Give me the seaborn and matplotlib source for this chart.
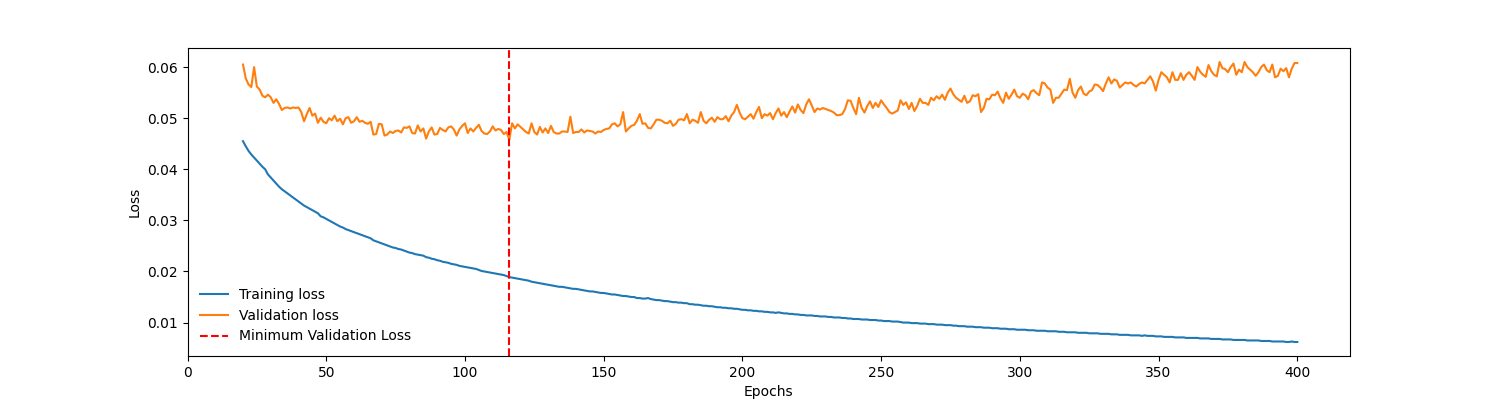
import matplotlib
matplotlib.use("Agg")
import matplotlib.pyplot as plt
import numpy as np
import pandas as pd
import seaborn as sns

train_loss = [
    .0455, .0445, .0436, .0429, .0423, .0417, .0411, .0405, .0400,
    .0390, .0384, .0378, .0372, .0366, .0361, .0357, .0353, .0349, .0345,
    .0341, .0337, .0333, .0329, .0326, .0323, .0320, .0317, .0314,
    .0308, .0306, .0303, .0300, .0297, .0294, .0291, .0288, .0286, .0283,
    .0281, .0279, .0277, .0275, .0273, .0271, .0269, .0267, .0265,
    .0261, .0259, .0257, .0255, .0253, .0251, .0249, .0247, .0246, .0244,
    .0243, .0241, .0239, .0237, .0236, .0234, .0233, .0232, .0231,
    .0228, .0227, .0225, .0224, .0222, .0221, .0219, .0218, .0217, .0215,
    .0214, .0213, .0211, .0210, .0209, .0208, .0207, .0206, .0205,
    .0203, .0201, .0200, .0199, .0198, .0197, .0196, .0195, .0194, .0193,
    .0191, .0189, .0188, .0187, .0186, .0185, .0184, .0183, .0182,
    .0180, .0179, .0178, .0177, .0176, .0175, .0174, .0173, .0172, .0171,
    .0170, .0170, .0169, .0168, .0167, .0166, .0166, .0165, .0164,
    .0163, .0162, .0161, .0161, .0160, .0159, .0158, .0158, .0157, .0156,
    .0155, .0155, .0154, .0153, .0152, .0152, .0151, .0150, .0150,
    .0148, .0148, .0147, .0147, .0148, .0146, .0145, .0144, .0144, .0143,
    .0142, .0142, .0141, .0140, .0140, .0139, .0139, .0138, .0138,
    .0136, .0136, .0135, .0135, .0134, .0133, .0133, .0132, .0132, .0131,
    .0130, .0130, .0129, .0129, .0128, .0128, .0127, .0127, .0126,
    .0125, .0125, .0124, .0124, .0123, .0123, .0122, .0122, .0121, .0121,
    .0120, .0120, .0119, .0120, .0119, .0118, .0118, .0117, .0117,
    .0116, .0116, .0115, .0115, .0114, .0114, .0114, .0113, .0113, .0112,
    .0112, .0112, .0111, .0111, .0110, .0110, .0110, .0109, .0109,
    .0108, .0108, .0107, .0107, .0107, .0106, .0106, .0106, .0105, .0105,
    .0105, .0104, .0104, .0103, .0103, .0103, .0102, .0102, .0102,
    .0101, .0100, .0100, .0100, .0099, .0099, .0099, .0098, .0098, .0098,
    .0097, .0097, .0097, .0096, .0096, .0096, .0095, .0095, .0095,
    .0094, .0094, .0093, .0093, .0093, .0092, .0092, .0092, .0091, .0091,
    .0091, .0090, .0090, .0090, .0089, .0089, .0089, .0088, .0088,
    .0088, .0087, .0087, .0087, .0086, .0086, .0086, .0086, .0085, .0085,
    .0085, .0084, .0084, .0084, .0084, .0083, .0083, .0083, .0083,
    .0082, .0082, .0082, .0081, .0081, .0081, .0081, .0080, .0080, .0080,
    .0080, .0079, .0079, .0079, .0079, .0078, .0078, .0078, .0078,
    .0077, .0077, .0077, .0076, .0076, .0076, .0076, .0075, .0075, .0075,
    .0075, .0074, .0075, .0074, .0074, .0074, .0073, .0073, .0073,
    .0072, .0072, .0072, .0072, .0071, .0071, .0071, .0071, .0070, .0070,
    .0070, .0070, .0070, .0069, .0069, .0069, .0069, .0068, .0068,
    .0068, .0068, .0067, .0067, .0067, .0067, .0066, .0066, .0066, .0066,
    .0066, .0065, .0065, .0065, .0065, .0065, .0064, .0064, .0064,
    .0064, .0063, .0063, .0063, .0063, .0063, .0062, .0062, .0063, .0062,
    .0062,
]

val_loss = [
    .0605, .0578, .0566, .0561, .0600, .0562, .0556, .0544, .0541,
    .0546, .0541, .0530, .0537, .0528, .0516, .0520, .0521, .0519, .0521,
    .0520, .0521, .0512, .0494, .0508, .0520, .0505, .0509, .0491,
    .0501, .0493, .0490, .0500, .0496, .0505, .0494, .0499, .0488, .0500,
    .0502, .0491, .0494, .0502, .0493, .0495, .0491, .0489, .0493,
    .0468, .0469, .0489, .0488, .0466, .0468, .0474, .0471, .0475, .0476,
    .0472, .0482, .0481, .0484, .0471, .0470, .0486, .0474, .0480,
    .0460, .0474, .0482, .0468, .0469, .0481, .0477, .0474, .0482, .0484,
    .0478, .0466, .0478, .0485, .0490, .0471, .0480, .0474, .0481,
    .0487, .0475, .0470, .0469, .0474, .0484, .0476, .0479, .0477, .0469,
    .0473, .0458, .0490, .0480, .0488, .0483, .0478, .0473, .0470,
    .0490, .0473, .0468, .0483, .0472, .0480, .0471, .0485, .0473, .0470,
    .0470, .0474, .0474, .0473, .0503, .0471, .0473, .0473, .0478,
    .0472, .0476, .0475, .0474, .0470, .0474, .0473, .0477, .0479, .0480,
    .0488, .0490, .0484, .0488, .0512, .0474, .0480, .0485, .0487,
    .0495, .0508, .0489, .0490, .0481, .0480, .0488, .0497, .0497, .0495,
    .0491, .0490, .0495, .0485, .0489, .0497, .0498, .0496, .0508,
    .0490, .0497, .0495, .0491, .0512, .0495, .0490, .0497, .0501, .0493,
    .0502, .0498, .0498, .0504, .0494, .0505, .0512, .0526, .0511,
    .0500, .0498, .0503, .0508, .0499, .0512, .0522, .0500, .0508, .0505,
    .0510, .0498, .0510, .0519, .0505, .0512, .0502, .0513, .0523,
    .0511, .0527, .0516, .0510, .0527, .0537, .0525, .0512, .0519, .0517,
    .0520, .0518, .0516, .0514, .0511, .0506, .0506, .0508, .0518,
    .0535, .0534, .0520, .0508, .0540, .0520, .0511, .0524, .0533, .0520,
    .0530, .0522, .0535, .0527, .0520, .0512, .0509, .0512, .0515,
    .0535, .0526, .0531, .0518, .0530, .0514, .0524, .0538, .0530, .0530,
    .0526, .0540, .0535, .0543, .0538, .0546, .0536, .0550, .0558,
    .0547, .0540, .0536, .0532, .0544, .0530, .0533, .0545, .0543, .0547,
    .0512, .0520, .0538, .0537, .0546, .0545, .0552, .0539, .0530,
    .0550, .0538, .0546, .0556, .0543, .0540, .0548, .0545, .0537, .0552,
    .0555, .0549, .0545, .0570, .0568, .0560, .0556, .0530, .0540,
    .0540, .0548, .0556, .0555, .0577, .0550, .0540, .0555, .0562, .0548,
    .0545, .0552, .0555, .0566, .0565, .0560, .0553, .0568, .0580,
    .0568, .0576, .0573, .0560, .0565, .0570, .0568, .0570, .0565, .0562,
    .0567, .0570, .0568, .0575, .0582, .0572, .0554, .0575, .0590,
    .0585, .0580, .0570, .0590, .0575, .0575, .0588, .0575, .0585, .0590,
    .0583, .0575, .0600, .0591, .0585, .0581, .0604, .0592, .0585,
    .0582, .0610, .0598, .0596, .0590, .0600, .0607, .0585, .0595, .0590,
    .0610, .0600, .0595, .0590, .0583, .0590, .0600, .0605, .0594,
    .0590, .0605, .0580, .0583, .0597, .0592, .0598, .0580, .0597, .0608,
    .0608,
]

first_epoch = 20
epochs = np.arange(first_epoch, first_epoch + len(train_loss))
best_epoch = epochs[int(np.argmin(val_loss))]

df = pd.DataFrame({"Epochs": epochs, "Training loss": train_loss,
                   "Validation loss": val_loss})

fig, ax = plt.subplots(figsize=(15, 4), dpi=100)
sns.lineplot(data=df, x="Epochs", y="Training loss", ax=ax,
             color="#1f77b4", label="Training loss")
sns.lineplot(data=df, x="Epochs", y="Validation loss", ax=ax,
             color="#ff7f0e", label="Validation loss")
ax.axvline(best_epoch, color="red", linestyle="--",
           label="Minimum Validation Loss")

ax.set_xlim(left=0)
ax.set_xlabel("Epochs")
ax.set_ylabel("Loss")
ax.legend(loc="lower left", frameon=False)

fig.savefig("out.png")
